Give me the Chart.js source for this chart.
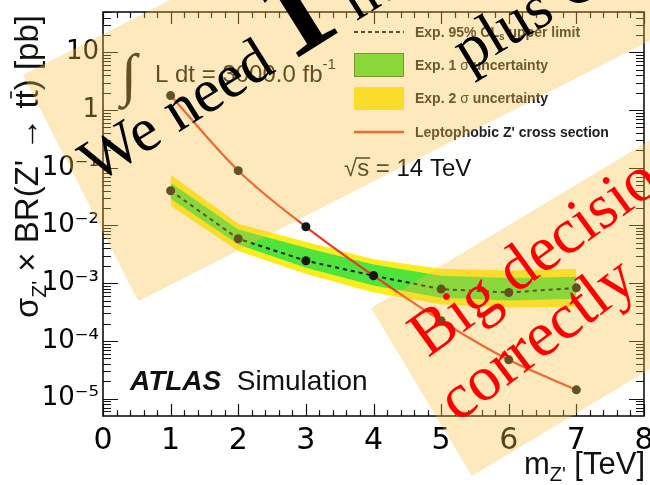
<!DOCTYPE html>
<html>
<head>
<meta charset="utf-8">
<script src="https://cdn.jsdelivr.net/npm/chart.js@4"></script>
<style>
html,body{margin:0;padding:0;background:#fff;}
#wrap{width:650px;height:485px;}
</style>
</head>
<body>
<div id="wrap"><canvas id="zprime" width="650" height="485"></canvas></div>
<script>
// values (pb)
const massTeV = [1, 2, 3, 4, 5, 6, 7];
const zprimeXsec = [1.78, 0.089, 0.0095, 0.00135, 0.000224, 0.000047, 0.0000142];
const expLimit = [0.040, 0.0059, 0.00245, 0.00135, 0.00079, 0.00069, 0.00083];
const oneSigmaUp = [0.055, 0.0085, 0.0041, 0.0021, 0.00135, 0.00123, 0.00129];
const oneSigmaDown = [0.029, 0.0047, 0.00186, 0.00091, 0.00056, 0.0005, 0.00054];
const twoSigmaUp = [0.076, 0.0107, 0.0052, 0.0026, 0.00178, 0.00166, 0.00178];
const twoSigmaDown = [0.022, 0.0036, 0.00145, 0.00069, 0.00043, 0.00038, 0.00039];
const xTicks = [0, 1, 2, 3, 4, 5, 6, 7, 8];
const yTicks = [1e-5, 1e-4, 1e-3, 1e-2, 1e-1, 1, 10];
const yTickLabels = ['10⁻⁵', '10⁻⁴', '10⁻³', '10⁻²', '10⁻¹', '1', '10'];

function pts(arr) {
    return massTeV.map((m, i) => ({x: m, y: arr[i]}));
}

const GREEN = '#4fe43b';
const YELLOW = '#fbec20';
const RED = '#e63c2c';
const SANS = '"Liberation Sans", Arial, sans-serif';
const SERIF = '"Liberation Serif", "Times New Roman", serif';

const whiteBg = {
    id: 'whiteBg',
    beforeDraw(chart) {
        const c = chart.ctx;
        c.save();
        c.fillStyle = '#fff';
        c.fillRect(0, 0, chart.width, chart.height);
        c.restore();
    }
};

// ROOT style frame with inward ticks on all four sides
const rootFrame = {
    id: 'rootFrame',
    afterDatasetsDraw(chart) {
        const {ctx, chartArea: a, scales: {x, y}} = chart;
        ctx.save();
        ctx.strokeStyle = '#111';
        ctx.lineWidth = 1.2;
        ctx.beginPath();
        for (let i = 0; i <= 40; i++) {
            const px = Math.round(x.getPixelForValue(i / 5)) + 0.5;
            const len = i % 5 === 0 ? 12 : 6;
            ctx.moveTo(px, a.bottom); ctx.lineTo(px, a.bottom - len);
            ctx.moveTo(px, a.top); ctx.lineTo(px, a.top + len);
        }
        for (let d = -6; d <= 1; d++) {
            for (let m = 1; m <= 9; m++) {
                const v = m * Math.pow(10, d);
                if (v < y.min || v > y.max) continue;
                const py = Math.round(y.getPixelForValue(v)) + 0.5;
                const len = m === 1 ? 15 : 8;
                ctx.moveTo(a.left, py); ctx.lineTo(a.left + len, py);
                ctx.moveTo(a.right, py); ctx.lineTo(a.right - len, py);
            }
        }
        ctx.stroke();
        ctx.lineWidth = 1.6;
        ctx.strokeRect(a.left, a.top, a.right - a.left, a.bottom - a.top);
        ctx.restore();
    }
};

// draw a row of [text, font, dy] pieces starting at x,y
function pieces(c, x, y, parts) {
    let cx = x;
    parts.forEach(p => {
        c.font = p[1];
        c.fillText(p[0], cx, y + (p[2] || 0));
        cx += c.measureText(p[0]).width;
    });
    return cx;
}
function piecesWidth(c, parts) {
    let w = 0;
    parts.forEach(p => { c.font = p[1]; w += c.measureText(p[0]).width; });
    return w;
}

const annotations = {
    id: 'annotations',
    afterDraw(chart) {
        const c = chart.ctx;
        c.save();
        c.textBaseline = 'alphabetic';
        c.fillStyle = '#111';

        // legend
        c.strokeStyle = '#111';
        c.lineWidth = 2;
        c.setLineDash([4, 3]);
        c.beginPath(); c.moveTo(354, 32); c.lineTo(404, 32); c.stroke();
        c.setLineDash([]);
        c.fillStyle = GREEN;
        c.fillRect(354, 53, 50, 24);
        c.strokeStyle = '#3a7a22'; c.lineWidth = 1;
        c.strokeRect(354.5, 53.5, 49, 23);
        c.fillStyle = YELLOW;
        c.fillRect(354, 87, 50, 23);
        c.strokeStyle = RED; c.lineWidth = 2.5;
        c.beginPath(); c.moveTo(354, 132); c.lineTo(404, 132); c.stroke();

        c.fillStyle = '#222';
        const lf = 'bold 14px ' + SANS;
        pieces(c, 415, 37, [['Exp. 95% CL', lf], ['s', 'bold 10px ' + SANS, 3], [' upper limit', lf]]);
        pieces(c, 415, 70, [['Exp. 1 ', lf], ['σ', '14px ' + SANS], [' uncertainty', lf]]);
        pieces(c, 415, 103, [['Exp. 2 ', lf], ['σ', '14px ' + SANS], [' uncertainty', lf]]);
        pieces(c, 415, 137, [["Leptophobic Z' cross section", lf]]);

        // luminosity and energy
        c.fillStyle = '#111';
        c.font = 'bold 58px ' + SERIF;
        c.fillText('∫', 121, 94);
        pieces(c, 155, 82, [['L dt = 3000.0 fb', '24px ' + SANS], ['-1', '15px ' + SANS, -13]]);
        const sx = pieces(c, 344, 176, [['√', '24px ' + SANS]]);
        c.lineWidth = 1.5; c.strokeStyle = '#111';
        c.beginPath(); c.moveTo(sx - 1, 158); c.lineTo(sx + 13, 158); c.stroke();
        pieces(c, sx, 176, [['s = 14 TeV', '24px ' + SANS]]);

        // ATLAS Simulation
        pieces(c, 130, 390, [['ATLAS', 'italic bold 28px ' + SANS], ['  Simulation', '28px ' + SANS]]);

        // x title
        const xt = [['m', '31px ' + SANS], ["Z'", '20px ' + SANS, 7], [' [TeV]', '31px ' + SANS]];
        pieces(c, 645 - piecesWidth(c, xt), 474, xt);

        // y title
        c.save();
        c.translate(38, 318);
        c.rotate(-Math.PI / 2);
        const big = '33px ' + SANS;
        let tx = pieces(c, 0, 0, [['σ', big], ["Z'", '21px ' + SANS, 8], [' × BR(Z\' → t', big]]);
        c.font = big;
        const tw = c.measureText('t').width;
        c.fillText('t', tx, 0);
        c.lineWidth = 1.6;
        c.beginPath(); c.moveTo(tx + 1, -27); c.lineTo(tx + tw - 1, -27); c.stroke();
        pieces(c, tx + tw, 0, [[') [pb]', big]]);
        c.restore();

        // overlay: beige bands and meme text
        c.fillStyle = 'rgba(249, 192, 64, 0.35)';
        c.save();
        c.translate(23, 75); c.rotate(-27 * Math.PI / 180);
        c.fillRect(0, 0, 900, 254);
        c.restore();
        c.save();
        c.translate(371, 308); c.rotate(-31 * Math.PI / 180);
        c.fillRect(0, 0, 600, 196);
        c.restore();

        c.fillStyle = '#000';
        c.save();
        c.translate(96, 184); c.rotate(-32 * Math.PI / 180);
        pieces(c, 0, 0, [['We need ', '62px ' + SERIF], ['1', 'bold 125px ' + SERIF], [' hu', '62px ' + SERIF]]);
        c.restore();
        c.save();
        c.translate(468, 72); c.rotate(-31 * Math.PI / 180);
        pieces(c, 0, 0, [['plus C', '62px ' + SERIF]]);
        c.restore();

        c.fillStyle = '#ff0000';
        c.save();
        c.translate(428, 358); c.rotate(-36 * Math.PI / 180);
        pieces(c, 0, 0, [['Big decisio', '64px ' + SERIF]]);
        c.restore();
        c.save();
        c.translate(458, 423); c.rotate(-37 * Math.PI / 180);
        pieces(c, 0, 0, [['correctly', '64px ' + SERIF]]);
        c.restore();

        c.restore();
    }
};

const clear = 'rgba(0,0,0,0)';
let zChart = new Chart(document.getElementById('zprime').getContext('2d'), {
    type: 'line',
    data: {
        datasets: [
            {label: "Leptophobic Z' cross section", data: pts(zprimeXsec), borderColor: RED, borderWidth: 2.2,
                cubicInterpolationMode: 'monotone', pointRadius: 4.5, pointBackgroundColor: '#151515',
                pointBorderWidth: 0, fill: false, order: 1},
            {label: 'Exp. 95% CLs upper limit', data: pts(expLimit), borderColor: '#111', borderWidth: 2,
                borderDash: [4, 4], pointRadius: 4.5, pointBackgroundColor: '#151515', pointBorderWidth: 0,
                fill: false, order: 2},
            {label: 'Exp. 1 sigma up', data: pts(oneSigmaUp), borderColor: clear, borderWidth: 0, pointRadius: 0,
                backgroundColor: GREEN, fill: {target: 3}, order: 3},
            {label: 'Exp. 1 sigma down', data: pts(oneSigmaDown), borderColor: clear, borderWidth: 0, pointRadius: 0,
                fill: false, order: 4},
            {label: 'Exp. 2 sigma up', data: pts(twoSigmaUp), borderColor: clear, borderWidth: 0, pointRadius: 0,
                backgroundColor: YELLOW, fill: {target: 5}, order: 5},
            {label: 'Exp. 2 sigma down', data: pts(twoSigmaDown), borderColor: clear, borderWidth: 0, pointRadius: 0,
                fill: false, order: 6}
        ]
    },
    options: {
        responsive: false,
        animation: false,
        devicePixelRatio: 1,
        layout: {padding: {top: 12, right: 6, left: 0, bottom: 0}},
        plugins: {legend: {display: false}, tooltip: {enabled: false}},
        scales: {
            x: {
                type: 'linear', min: 0, max: 8,
                grid: {display: false, drawTicks: false},
                border: {display: false},
                afterBuildTicks: s => { s.ticks = xTicks.map(v => ({value: v})); },
                afterFit: s => { s.height = 69; s.paddingLeft = 0; s.paddingRight = 0; },
                ticks: {padding: 7, color: '#000', autoSkip: false, maxRotation: 0,
                    font: {family: 'DejaVu Sans', size: 30},
                    callback: (v, i) => String(xTicks[i])}
            },
            y: {
                type: 'logarithmic', min: 5e-6, max: 50,
                grid: {display: false, drawTicks: false},
                border: {display: false},
                afterBuildTicks: s => { s.ticks = yTicks.map(v => ({value: v})); },
                afterFit: s => { s.width = 103; s.paddingTop = 0; s.paddingBottom = 0; },
                ticks: {padding: 4, color: '#000', autoSkip: false,
                    font: {family: 'DejaVu Sans', size: 26},
                    callback: (v, i) => yTickLabels[i]}
            }
        }
    },
    plugins: [whiteBg, rootFrame, annotations]
});
</script>
</body>
</html>
